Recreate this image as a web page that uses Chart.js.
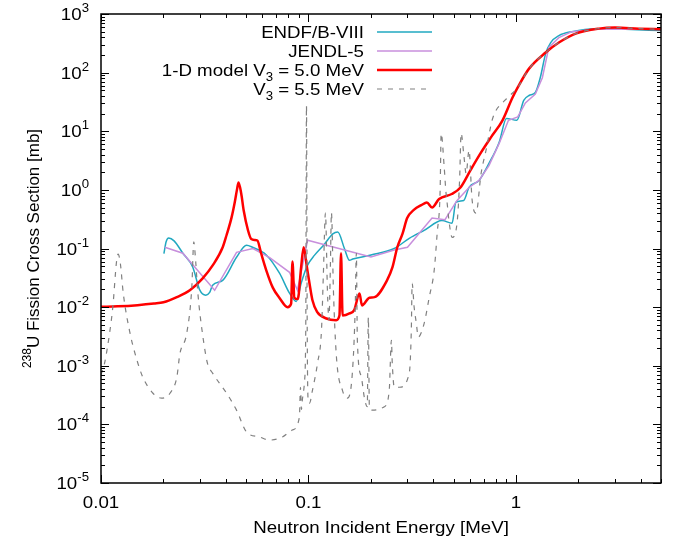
<!DOCTYPE html>
<html>
<head>
<meta charset="utf-8">
<script src="https://cdn.jsdelivr.net/npm/chart.js@4.4.1/dist/chart.umd.min.js"></script>
<style>
  html, body { margin: 0; padding: 0; background: #fff; }
  canvas { display: block; }
</style>
</head>
<body>
<canvas id="fission" width="681" height="546"></canvas>
<script>
// ENDF/B-VIII (energia en MeV, seccion eficaz en mb)
const endfE = [0.0201, 0.0206, 0.0212, 0.0225, 0.0248, 0.0277, 0.0299, 0.032, 0.0334, 0.0345, 0.0386,
  0.045, 0.0503, 0.0537, 0.0626, 0.0725, 0.081, 0.0873, 0.0922, 0.099, 0.107, 0.119, 0.131, 0.1384,
  0.149, 0.1576, 0.1634, 0.2, 0.259, 0.306, 0.361, 0.44, 0.492, 0.513, 0.56, 0.594, 0.664, 0.741,
  0.83, 0.9, 1.01, 1.09, 1.156, 1.24, 1.31, 1.39, 1.47, 1.61, 1.86, 2.42, 3.36, 5.0];
const endfXS = [0.082, 0.13, 0.151, 0.135, 0.083, 0.048, 0.0197, 0.016, 0.0178, 0.0236, 0.0286,
  0.0708, 0.1135, 0.105, 0.0777, 0.0379, 0.0173, 0.0125, 0.0256, 0.052, 0.077, 0.117, 0.178, 0.191,
  0.1, 0.063, 0.066, 0.0775, 0.1, 0.149, 0.204, 0.3, 0.27, 0.61, 0.66, 1.1, 1.45, 2.83,
  6.5, 16.5, 15.4, 33.5, 40.7, 46, 82.6, 211, 326, 428, 500, 563, 548, 521];

// JENDL-5
const jendlE = [0.0203, 0.0248, 0.0353, 0.045, 0.054, 0.065, 0.081, 0.0885, 0.099, 0.2, 0.259, 0.3,
  0.394, 0.455, 0.52, 0.594, 0.664, 0.741, 0.83, 0.92, 1.02, 1.11, 1.24, 1.34, 1.44, 1.61, 1.86,
  2.42, 5.0];
const jendlXS = [0.105, 0.083, 0.0194, 0.086, 0.1, 0.07, 0.0393, 0.0194, 0.138, 0.0716, 0.094, 0.105,
  0.33, 0.31, 0.66, 1.1, 1.45, 2.6, 6.2, 15.4, 17.6, 30.4, 43, 82, 270, 395, 500,
  548, 548];

// modelo 1-D, V3 = 5.0 MeV
const modelE = [0.01, 0.012, 0.015, 0.018, 0.02, 0.0232, 0.0268, 0.0309, 0.0346, 0.0386,
  0.0403, 0.0426, 0.0441, 0.0452, 0.046, 0.0474, 0.0487, 0.0511, 0.053, 0.055, 0.0567, 0.0591,
  0.0626, 0.0673, 0.0725, 0.0793, 0.0825, 0.0837, 0.0855, 0.0888, 0.0922, 0.0948, 0.0982, 0.1011,
  0.1045, 0.11, 0.122, 0.136, 0.141, 0.1435, 0.146, 0.1576, 0.166, 0.1762, 0.181, 0.1967, 0.208,
  0.239, 0.254, 0.268, 0.284, 0.299, 0.323, 0.35, 0.372, 0.394, 0.426, 0.49, 0.54, 0.605, 0.68,
  0.756, 0.86, 0.96, 1.02, 1.156, 1.39, 1.61, 1.94, 2.51, 3.0, 3.9, 5.0];
const modelXS = [0.0101, 0.0103, 0.0108, 0.0115, 0.0121, 0.0148, 0.0194, 0.031, 0.052, 0.105,
  0.17, 0.34, 0.61, 1.0, 1.34, 0.87, 0.45, 0.205, 0.145, 0.14, 0.137, 0.083,
  0.0425, 0.0215, 0.0143, 0.0100, 0.0115, 0.06, 0.0145, 0.0137, 0.0487, 0.105, 0.0487, 0.0255,
  0.0131, 0.0083, 0.0064, 0.006, 0.0072, 0.083, 0.0072, 0.0078, 0.0089, 0.0171, 0.0107, 0.0145, 0.0148,
  0.0286, 0.048, 0.105, 0.179, 0.33, 0.46, 0.55, 0.61, 0.5, 0.7, 0.85, 1.1, 2.2, 4.4,
  7.8, 15.2, 37, 56, 117, 220, 326, 464, 563, 586, 563, 548];

// V3 = 5.5 MeV
const altE = [0.01, 0.0104, 0.011, 0.0114, 0.0119, 0.0121, 0.0124, 0.0128, 0.0138, 0.0149, 0.0159,
  0.0178, 0.0196, 0.0215, 0.0232, 0.024, 0.0259, 0.0274, 0.028, 0.0286, 0.0293, 0.031, 0.0326,
  0.0345, 0.0403, 0.045, 0.0503, 0.058, 0.065, 0.0749, 0.0836, 0.0904, 0.0915, 0.0925, 0.0934,
  0.0955, 0.097, 0.0978, 0.0986, 0.0998, 0.1011, 0.1045, 0.1105, 0.1155, 0.118, 0.1207, 0.1234,
  0.1255, 0.1275, 0.129, 0.1319, 0.1364, 0.1458, 0.154, 0.1627, 0.168, 0.1701, 0.172, 0.1798,
  0.1858, 0.192, 0.1943, 0.1965, 0.203, 0.232, 0.245, 0.251, 0.2534, 0.259, 0.274, 0.306, 0.313,
  0.316, 0.323, 0.331, 0.338, 0.361, 0.382, 0.4035, 0.417, 0.431, 0.436, 0.451, 0.459, 0.466,
  0.477, 0.492, 0.52, 0.535, 0.544, 0.562, 0.575, 0.594, 0.614, 0.642, 0.679, 0.717, 0.767,
  0.801, 0.856, 0.93, 1.02, 1.156, 1.39, 1.61, 1.94, 2.51, 3.0, 3.9, 5.0];
const altXS = [0.0007, 0.0011, 0.0036, 0.01, 0.063, 0.08, 0.055, 0.0173, 0.0036, 0.00125, 0.00064,
  0.00034, 0.00028, 0.00034, 0.00064, 0.0016, 0.0036, 0.022, 0.13, 0.06, 0.0173, 0.0031, 0.0011,
  0.00075, 0.00034, 0.000175, 0.000074, 0.000061, 0.000054, 0.000061, 0.00008, 0.000133, 0.00043, 0.00018, 0.00026,
  0.0005, 0.004, 27.5, 0.004, 0.00025, 0.00023, 0.00038, 0.0011, 0.004, 0.038, 0.40, 0.019,
  0.006, 0.05, 0.41, 0.019, 0.0014, 0.00038, 0.00028, 0.00075, 0.01, 0.083, 0.0027, 0.00064,
  0.00029, 0.0002, 0.0067, 0.0002, 0.000175, 0.0002, 0.00038, 0.0027, 0.0011, 0.00043, 0.00043, 0.00075, 0.004,
  0.0255, 0.01, 0.0053, 0.0031, 0.0053, 0.0148, 0.0425, 0.181, 0.98, 9.2, 2.42, 0.98, 0.59,
  0.27, 0.155, 0.27, 1.5, 9.2, 3.6, 1.9, 4.7, 0.7, 0.4, 1.9, 4.7, 15.3,
  22.6, 30, 40, 56, 117, 220, 326, 464, 563, 586, 563, 548];

// ejes
const xMin = 0.01, xMax = 5;
const yMin = 1e-5, yMax = 1e3;
const xTickValues = [0.01, 0.1, 1];
const xTickLabels = ['0.01', '0.1', '1'];
const yExponents = [-5, -4, -3, -2, -1, 0, 1, 2, 3];

const FONT = '"Liberation Sans", Arial, Helvetica, sans-serif';
const STRETCH = 1.1; // el original tiene el texto algo ensanchado
const pts = (e, s) => e.map((x, i) => ({ x, y: s[i] }));

// texto con superindice / subindice, ensanchado en horizontal
function richText(ctx, parts, x, y, align) {
  let total = 0;
  parts.forEach(p => { ctx.font = p.size + 'px ' + FONT; p.w = ctx.measureText(p.t).width; total += p.w; });
  let cx = align === 'right' ? -total : align === 'center' ? -total / 2 : 0;
  ctx.save();
  ctx.translate(x, y);
  ctx.scale(STRETCH, 1);
  parts.forEach(p => {
    ctx.font = p.size + 'px ' + FONT;
    ctx.fillText(p.t, cx, p.dy || 0);
    cx += p.w;
  });
  ctx.restore();
}

const framePlugin = {
  id: 'frame',
  afterDraw(chart) {
    const ctx = chart.ctx;
    const a = chart.chartArea;
    const xs = chart.scales.x, ys = chart.scales.y;
    ctx.save();
    ctx.strokeStyle = '#000';
    ctx.fillStyle = '#000';
    ctx.lineWidth = 1.5;
    ctx.strokeRect(a.left, a.top, a.right - a.left, a.bottom - a.top);

    // marcas del eje x
    ctx.lineWidth = 1;
    for (let k = -2; k <= 0; k++) {
      for (let m = 1; m <= 9; m++) {
        const v = m * Math.pow(10, k);
        if (v < xMin - 1e-9 || v > xMax + 1e-9) continue;
        const px = Math.round(xs.getPixelForValue(v)) + 0.5;
        const len = m === 1 ? 8 : 4;
        ctx.beginPath();
        ctx.moveTo(px, a.bottom); ctx.lineTo(px, a.bottom - len);
        ctx.moveTo(px, a.top); ctx.lineTo(px, a.top + len);
        ctx.stroke();
      }
    }
    // marcas del eje y
    for (let k = -5; k <= 3; k++) {
      for (let m = 1; m <= 9; m++) {
        const v = m * Math.pow(10, k);
        if (v > yMax * 1.0001) continue;
        const py = Math.round(ys.getPixelForValue(v)) + 0.5;
        const len = m === 1 ? 8 : 4;
        ctx.beginPath();
        ctx.moveTo(a.left, py); ctx.lineTo(a.left + len, py);
        ctx.moveTo(a.right, py); ctx.lineTo(a.right - len, py);
        ctx.stroke();
      }
    }

    // etiquetas
    ctx.textBaseline = 'alphabetic';
    ctx.textAlign = 'left';
    xTickValues.forEach((v, i) => {
      richText(ctx, [{ t: xTickLabels[i], size: 17 }], xs.getPixelForValue(v), 508, 'center');
    });
    yExponents.forEach(e => {
      const py = ys.getPixelForValue(Math.pow(10, e));
      richText(ctx, [{ t: '10', size: 17 }, { t: String(e), size: 12, dy: -8 }], 89, py + 6, 'right');
    });

    // titulos
    richText(ctx, [{ t: 'Neutron Incident Energy [MeV]', size: 17 }], (a.left + a.right) / 2, 533, 'center');
    ctx.save();
    ctx.translate(39, (a.top + a.bottom) / 2);
    ctx.rotate(-Math.PI / 2);
    const title = [{ t: '238', size: 12, dy: -8 }, { t: 'U Fission Cross Section [mb]', size: 17 }];
    let tw = 0;
    title.forEach(p => { ctx.font = p.size + 'px ' + FONT; p.w = ctx.measureText(p.t).width; tw += p.w; });
    let tx = -tw / 2;
    title.forEach(p => { ctx.font = p.size + 'px ' + FONT; ctx.fillText(p.t, tx, p.dy || 0); tx += p.w; });
    ctx.restore();

    // leyenda
    const legend = [
      { parts: [{ t: 'ENDF/B-VIII', size: 17 }], color: '#20a8c0', width: 1.5, dash: [] },
      { parts: [{ t: 'JENDL-5', size: 17 }], color: '#c88fdc', width: 1.5, dash: [] },
      { parts: [{ t: '1-D model V', size: 17 }, { t: '3', size: 12, dy: 5 }, { t: ' = 5.0 MeV', size: 17 }], color: '#ff0000', width: 2.5, dash: [] },
      { parts: [{ t: 'V', size: 17 }, { t: '3', size: 12, dy: 5 }, { t: ' = 5.5 MeV', size: 17 }], color: '#808080', width: 1.2, dash: [5, 6] }
    ];
    legend.forEach((item, i) => {
      const ly = 32 + i * 19;
      ctx.fillStyle = '#000';
      richText(ctx, item.parts, 364, ly + 6, 'right');
      ctx.strokeStyle = item.color;
      ctx.lineWidth = item.width;
      ctx.setLineDash(item.dash);
      ctx.beginPath();
      ctx.moveTo(377, ly); ctx.lineTo(432, ly);
      ctx.stroke();
      ctx.setLineDash([]);
    });
    ctx.restore();
  }
};

new Chart(document.getElementById('fission').getContext('2d'), {
  type: 'line',
  data: {
    datasets: [
      { label: 'V3 = 5.5 MeV', data: pts(altE, altXS), borderColor: '#808080', borderWidth: 1.2,
        borderDash: [5, 6], order: 1, cubicInterpolationMode: 'monotone' },
      { label: '1-D model V3 = 5.0 MeV', data: pts(modelE, modelXS), borderColor: '#ff0000', borderWidth: 2.5,
        order: 2, cubicInterpolationMode: 'monotone' },
      { label: 'JENDL-5', data: pts(jendlE, jendlXS), borderColor: '#c88fdc', borderWidth: 1.5,
        order: 3, tension: 0 },
      { label: 'ENDF/B-VIII', data: pts(endfE, endfXS), borderColor: '#20a8c0', borderWidth: 1.5,
        order: 4, cubicInterpolationMode: 'monotone' }
    ]
  },
  options: {
    responsive: false,
    animation: false,
    elements: { point: { radius: 0 }, line: { fill: false } },
    layout: { padding: { left: 101, right: 20, top: 14, bottom: 63 } },
    plugins: { legend: { display: false }, tooltip: { enabled: false } },
    scales: {
      x: { type: 'logarithmic', min: xMin, max: xMax, display: false },
      y: { type: 'logarithmic', min: yMin, max: yMax, display: false }
    }
  },
  plugins: [framePlugin]
});
</script>
</body>
</html>
